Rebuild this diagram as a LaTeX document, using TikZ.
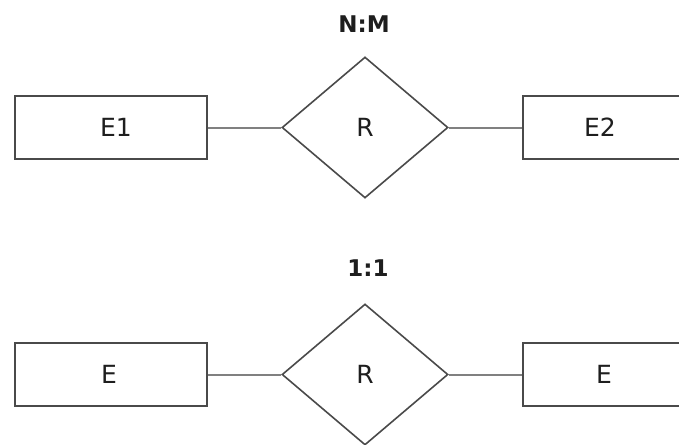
\documentclass[tikz,border=0pt]{standalone}
\usepackage{fontspec}
\setmainfont{DejaVu Sans}
\usetikzlibrary{shapes.geometric}
\definecolor{bordc}{HTML}{4A4A4A}
\definecolor{linec}{HTML}{808080}
\definecolor{txtc}{HTML}{1E1E1E}
\tikzset{
  entity/.style={draw=bordc, line width=2.2pt, rectangle, minimum width=192pt, minimum height=63pt, inner sep=0pt},
  rel/.style={draw=bordc, line width=1.6pt, diamond, minimum width=166pt, minimum height=141pt, inner sep=0pt},
  lbl/.style={font=\fontsize{25}{29}\selectfont, text=txtc, inner sep=0pt},
  card/.style={font=\fontsize{23}{27}\selectfont\bfseries, text=txtc, inner sep=0pt},
  conn/.style={draw=linec, line width=2pt}
}
\begin{document}
\begin{tikzpicture}[x=1pt,y=-1pt]
\useasboundingbox (0,0) rectangle (679,444);
\fill[white] (0,0) rectangle (679,444);
\begin{scope}
\clip (0,0) rectangle (679,444);
% top row
\node[card] (c1) at (364,24) {N:M};
\node[entity] (e1) at (111,127.5) {};
\node[lbl] (t1) at (116,127.5) {E1};
\node[rel, label={[lbl]center:R}] (r1) at (365,127.5) {};
\node[entity] (e2) at (619,127.5) {};
\node[lbl] (t2) at (600,127.5) {E2};
\draw[conn] (e1.east) -- (r1.west);
\draw[conn] (r1.east) -- (e2.west);
% bottom row
\node[card] (c2) at (368,268) {1:1};
\node[entity] (e3) at (111,374.5) {};
\node[lbl] (t3) at (109,374.5) {E};
\node[rel, label={[lbl]center:R}] (r2) at (365,374.5) {};
\node[entity] (e4) at (619,374.5) {};
\node[lbl] (t4) at (604,374.5) {E};
\draw[conn] (e3.east) -- (r2.west);
\draw[conn] (r2.east) -- (e4.west);
\end{scope}
\end{tikzpicture}
\end{document}
